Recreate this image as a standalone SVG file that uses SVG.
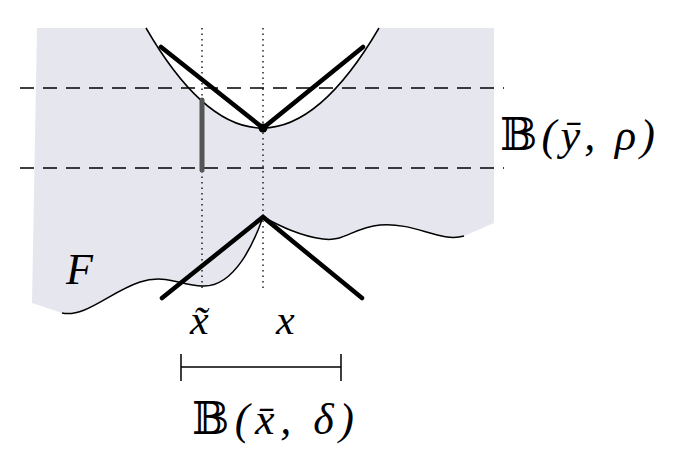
<svg xmlns="http://www.w3.org/2000/svg" width="674" height="462" viewBox="0 0 674 462">
<style>
.t{font-family:"Liberation Serif","DejaVu Serif",serif;font-style:italic;fill:#000}
.thick{stroke:#000;stroke-width:4.5;fill:none;stroke-linecap:round}
.thin{stroke:#000;stroke-width:1.5;fill:none}
.dot{stroke:#000;stroke-width:1.3;stroke-dasharray:1.5 4;fill:none}
.dash{stroke:#000;stroke-width:1.6;stroke-dasharray:14 9;fill:none}
</style>
<rect width="674" height="462" fill="#fff"/>
<g id="region">
<path d="M37,28 L146,28 Q262,228 379,28 L494,28 L494,223 L464,236 C440,243 415,222 380,225 C352,228 345,242 323,239 C300,236 280,226 263,217 C255,240 235,288 202,286 C180,285 165,274 140,282 C110,292 85,318 62,313 L32,303 Z" fill="#e6e6ef"/>
</g>
<g id="curves">
<path class="thin" d="M146,28 Q262,228 379,28"/>
<path class="thin" d="M464,236 C440,243 415,222 380,225 C352,228 345,242 323,239 C300,236 280,226 263,217 C255,240 235,288 202,286 C180,285 165,274 140,282 C110,292 85,318 62,313"/>
</g>
<g id="guides">
<line class="dot" x1="202" y1="28" x2="202" y2="290"/>
<line class="dot" x1="263" y1="28" x2="263" y2="290"/>
<line class="dash" x1="20" y1="88" x2="504" y2="88"/>
<line class="dash" x1="20" y1="168" x2="504" y2="168"/>
</g>
<g id="cones">
<path class="thick" d="M161,47 L263,128 L363,47"/>
<path class="thick" d="M162,298 L263,217 L362,298"/>
<circle cx="263" cy="128" r="4.5" fill="#000"/>
<line x1="202" y1="100" x2="202" y2="170" stroke="#555" stroke-width="5" stroke-linecap="round"/>
</g>
<g id="interval">
<path class="thin" d="M181,367 H341 M181,354 V381 M341,354 V381"/>
</g>
<g id="labels">
<text class="t" x="500" y="150" font-size="44" textLength="155"><tspan font-style="normal">𝔹</tspan>(ȳ, ρ)</text>
<text class="t" x="66" y="284" font-size="44">F</text>
<text class="t" x="190" y="334" font-size="42">x̃</text>
<text class="t" x="276" y="334" font-size="42">x</text>
<text class="t" x="192" y="434" font-size="44" textLength="162"><tspan font-style="normal">𝔹</tspan>(x̄, δ)</text>
</g>
</svg>
